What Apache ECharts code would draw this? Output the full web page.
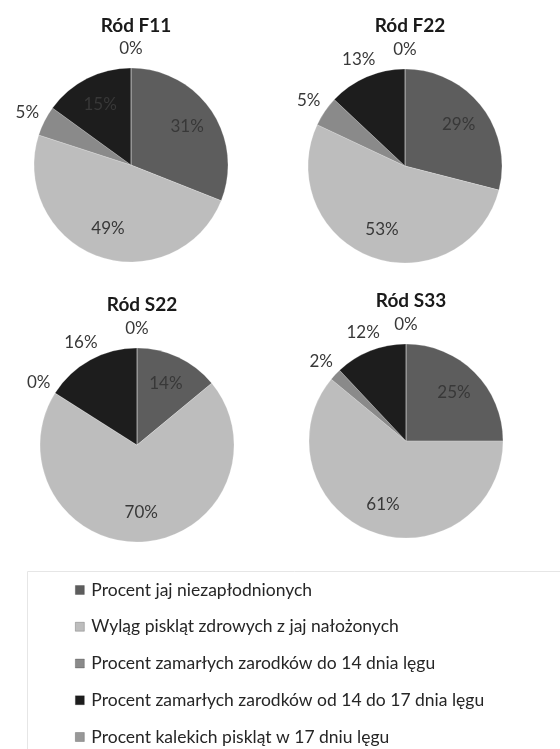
<!DOCTYPE html>
<html>
<head>
<meta charset="utf-8">
<script src="https://cdn.jsdelivr.net/npm/echarts@6/dist/echarts.min.js"></script>
<style>
  html, body { margin: 0; padding: 0; background: #ffffff; }
  #chart { width: 560px; height: 749px; }
</style>
</head>
<body>
<div id="chart"></div>
<script>
// Categories (legend order = slice order, clockwise from 12 o'clock)
const categories = [
  'Procent jaj niezapłodnionych',
  'Wyląg piskląt zdrowych z jaj nałożonych',
  'Procent zamarłych zarodków do 14 dnia lęgu',
  'Procent zamarłych zarodków od 14 do 17 dnia lęgu',
  'Procent kalekich piskląt w 17 dniu lęgu'
];

// Lines (rody)
const lines = ['Ród F11', 'Ród F22', 'Ród S22', 'Ród S33'];

// Percent values per line, in category order
const valuesF11 = [31, 49, 5, 15, 0];
const valuesF22 = [29, 53, 5, 13, 0];
const valuesS22 = [14, 70, 0, 16, 0];
const valuesS33 = [25, 61, 2, 12, 0];
const allValues = [valuesF11, valuesF22, valuesS22, valuesS33];

// Which slices carry their percentage label inside the pie
const insideLabelIdx = [[0, 1, 3], [0, 1], [0, 1], [0, 1]];

// Styling / layout
const sliceColors = ['#5d5d5d', '#bdbdbd', '#8a8a8a', '#1d1d1d', '#989898'];
const pieCenters = [[131, 165], [405, 166], [137, 445], [406, 441]];
const pieRadius = 97;
const titleTops = [11, 11, 290, 286];
const FONT = 'Lato, "Open Sans", sans-serif';
const labelColor = '#383838';

const series = [];
const titles = [];

lines.forEach(function (name, i) {
  const vals = allValues[i];
  const center = pieCenters[i];

  titles.push({
    text: name,
    left: center[0],
    top: titleTops[i],
    textAlign: 'center',
    textStyle: { fontFamily: FONT, fontSize: 19, fontWeight: 'bold', color: '#1a1a1a' }
  });

  // visible slices
  series.push({
    type: 'pie',
    name: name,
    center: center,
    radius: [0, pieRadius],
    startAngle: 90,
    clockwise: true,
    silent: true,
    label: { show: false },
    labelLine: { show: false },
    emphasis: { disabled: true },
    itemStyle: { borderColor: 'rgba(255,255,255,0.35)', borderWidth: 0.6 },
    data: categories.map(function (c, k) {
      return { name: c, value: vals[k], itemStyle: { color: sliceColors[k] } };
    })
  });

  // label rings: transparent pies whose "inside" label radius lands where the text sits
  const rings = [
    { r: 2 * (0.7 * pieRadius - 3), inside: true },
    { r: 2 * (1.2 * pieRadius - 3), inside: false }
  ];
  rings.forEach(function (ring) {
    series.push({
      type: 'pie',
      name: name + (ring.inside ? ' in' : ' out'),
      center: center,
      radius: [0, ring.r],
      startAngle: 90,
      clockwise: true,
      silent: true,
      z: 5,
      avoidLabelOverlap: false,
      legendHoverLink: false,
      emphasis: { disabled: true },
      labelLine: { show: false },
      itemStyle: { color: 'rgba(0,0,0,0)', borderWidth: 0 },
      label: {
        show: true,
        position: 'inside',
        formatter: '{c}%',
        fontFamily: FONT,
        fontSize: 17,
        color: labelColor
      },
      data: categories.map(function (c, k) {
        const isInside = insideLabelIdx[i].indexOf(k) >= 0;
        return {
          name: c,
          value: vals[k],
          label: { show: isInside === ring.inside }
        };
      })
    });
  });
});

const chart = echarts.init(document.getElementById('chart'), null, { renderer: 'canvas' });
chart.setOption({
  backgroundColor: '#ffffff',
  animation: false,
  title: titles,
  legend: {
    data: categories,
    orient: 'vertical',
    left: 75,
    top: 580,
    height: 200,
    padding: 0,
    itemWidth: 9,
    itemHeight: 9,
    itemGap: 16.75,
    icon: 'rect',
    selectedMode: false,
    itemStyle: { borderColor: 'rgba(0,0,0,0.3)', borderWidth: 0.7 },
    textStyle: {
      fontFamily: FONT,
      fontSize: 17.5,
      color: '#262626',
      lineHeight: 20,
      padding: [0, 0, 0, 2]
    }
  },
  graphic: [{
    type: 'rect',
    silent: true,
    shape: { x: 27.5, y: 571.5, width: 600, height: 250 },
    style: { fill: 'none', stroke: '#e6e6e6', lineWidth: 1 }
  }],
  series: series
});
</script>
</body>
</html>
